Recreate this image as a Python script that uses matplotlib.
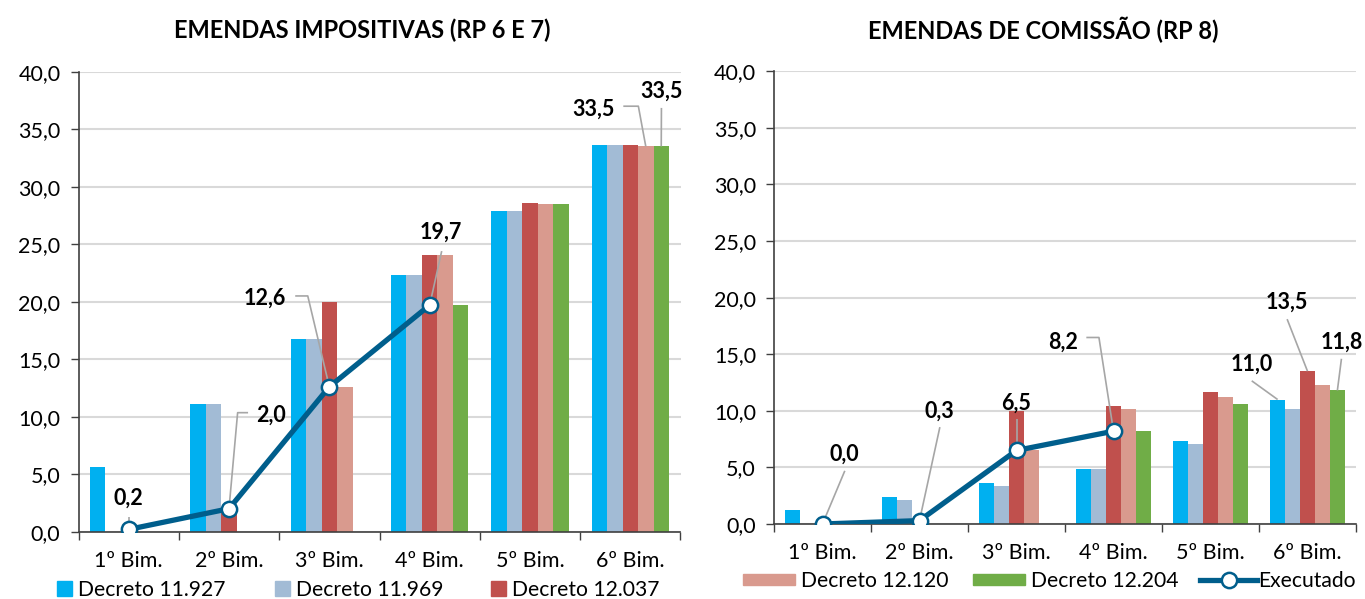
import matplotlib
matplotlib.use("Agg")
import matplotlib.pyplot as plt
from matplotlib.patches import Patch
from matplotlib.lines import Line2D
import numpy as np

plt.rcParams['font.family'] = ['Lato', 'DejaVu Sans']

cats = ['1º Bim.', '2º Bim.', '3º Bim.', '4º Bim.', '5º Bim.', '6º Bim.']
names = ['Decreto 11.927', 'Decreto 11.969', 'Decreto 12.037', 'Decreto 12.120', 'Decreto 12.204']
colors = ['#00B0F0', '#A2BBD5', '#C0504D', '#D99A8E', '#70AD47']
line_color = '#005E8C'

# Emendas impositivas (RP 6 e 7)
imp_11927 = [5.6, 11.1, 16.8, 22.3, 27.9, 33.6]
imp_11969 = [0.0, 11.1, 16.8, 22.3, 27.9, 33.6]
imp_12037 = [0.0, 2.0, 20.0, 24.1, 28.6, 33.6]
imp_12120 = [0.0, 0.0, 12.6, 24.1, 28.5, 33.5]
imp_12204 = [0.0, 0.0, 0.0, 19.7, 28.5, 33.5]
imp_exec = [0.2, 2.0, 12.6, 19.7]

# Emendas de comissão (RP 8)
com_11927 = [1.2, 2.4, 3.6, 4.9, 7.3, 11.0]
com_11969 = [0.0, 2.1, 3.4, 4.9, 7.1, 10.2]
com_12037 = [0.0, 0.3, 10.0, 10.4, 11.7, 13.5]
com_12120 = [0.0, 0.0, 6.5, 10.2, 11.2, 12.3]
com_12204 = [0.0, 0.0, 0.0, 8.2, 10.6, 11.8]
com_exec = [0.0, 0.3, 6.5, 8.2]

W = 0.154
offs = [-2, -1, 0, 1, 2]


def fmt(v):
    return f"{v:.1f}".replace('.', ',')


def draw_panel(ax, series, execd):
    x = np.arange(len(cats))
    for s, c, o in zip(series, colors, offs):
        ax.bar(x + o * W, s, W, color=c, zorder=2)
    ax.plot(x[:len(execd)], execd, color=line_color, lw=3.8, marker='o',
            ms=11, mfc='white', mec=line_color, mew=1.8, zorder=4)
    ax.set_xlim(-0.5, 5.5)
    ax.set_ylim(0, 40)
    ax.set_yticks(np.arange(0, 41, 5))
    ax.set_yticklabels([fmt(v) for v in np.arange(0, 41, 5)])
    ax.set_xticks(x)
    ax.set_xticklabels(cats)
    ax.set_xticks(np.arange(-0.5, 6, 1), minor=True)
    ax.tick_params(axis='x', which='major', length=0, pad=14, labelsize=15.5)
    ax.tick_params(axis='x', which='minor', length=6, width=1, color='#404040')
    ax.tick_params(axis='y', length=6, width=1, color='#404040', labelsize=15.5, pad=7)
    ax.grid(axis='y', color='#D9D9D9', lw=1.5, zorder=0)
    ax.set_axisbelow(True)
    for sp in ['top', 'right']:
        ax.spines[sp].set_visible(False)
    for sp in ['left', 'bottom']:
        ax.spines[sp].set_color('#404040')
        ax.spines[sp].set_linewidth(1.2)


def label(ax, value, txy, path):
    xs = [p[0] for p in path]
    ys = [p[1] for p in path]
    ax.plot(xs, ys, color='#A6A6A6', lw=1.2, zorder=3, solid_capstyle='butt')
    ax.text(txy[0], txy[1], fmt(value), ha='center', va='center',
            fontsize=15.5, fontweight='bold', zorder=5)


fig = plt.figure(figsize=(13.65, 5.99), dpi=100)
axL = fig.add_axes([78.5 / 1365, 1 - 531.7 / 599, 602 / 1365, 460 / 599])
axR = fig.add_axes([774 / 1365, 1 - 524 / 599, 582 / 1365, 452.7 / 599])

draw_panel(axL, [imp_11927, imp_11969, imp_12037, imp_12120, imp_12204], imp_exec)
draw_panel(axR, [com_11927, com_11969, com_12037, com_12120, com_12204], com_exec)

fig.text(362 / 1365, 1 - 30 / 599, 'EMENDAS IMPOSITIVAS (RP 6 E 7)', ha='center', va='center',
         fontsize=17, fontweight='bold')
fig.text(1043 / 1365, 1 - 30 / 599, 'EMENDAS DE COMISSÃO (RP 8)', ha='center', va='center',
         fontsize=17, fontweight='bold')

# data labels, left
label(axL, imp_exec[0], (0.0, 2.9), [(0.0, 1.3), (0, imp_exec[0])])
label(axL, imp_exec[1], (1.42, 10.15), [(1.19, 10.35), (1.086, 10.35), (1, imp_exec[1])])
label(axL, imp_exec[2], (1.36, 20.3), [(1.66, 20.5), (1.785, 20.5), (2, imp_exec[2])])
label(axL, imp_exec[3], (3.11, 26.0), [(3.12, 24.4), (3, imp_exec[3])])
label(axL, imp_12120[5], (4.63, 36.7), [(4.93, 37.0), (5.08, 37.0), (5 + W, imp_12120[5])])
label(axL, imp_12204[5], (5.31, 38.3), [(5.31, 36.85), (5 + 2 * W, imp_12204[5])])

# data labels, right
label(axR, com_exec[0], (0.23, 6.2), [(0.23, 4.7), (0, com_exec[0])])
label(axR, com_exec[1], (1.21, 10.0), [(1.21, 8.56), (1, com_exec[1])])
label(axR, com_exec[2], (2.0, 10.7), [(2.0, 9.24), (2, com_exec[2])])
label(axR, com_exec[3], (2.48, 16.1), [(2.72, 16.48), (2.85, 16.48), (3, com_exec[3])])
label(axR, com_11927[5], (4.43, 14.1), [(4.425, 12.65), (5 - 2 * W, com_11927[5])])
label(axR, com_12037[5], (4.79, 19.6), [(4.79, 18.1), (5, com_12037[5])])
label(axR, com_12204[5], (5.35, 16.1), [(5.35, 14.6), (5 + 2 * W, com_12204[5])])

# legends: one entry each, placed like the original
exec_handle = Line2D([], [], color=line_color, lw=3.8, marker='o', ms=11,
                     mfc='white', mec=line_color, mew=1.8)
entries = [
    (Patch(color=colors[0]), names[0], 57, 590, 0.7, 0.7, 0.3),
    (Patch(color=colors[1]), names[1], 275, 590, 0.7, 0.7, 0.3),
    (Patch(color=colors[2]), names[2], 491, 590, 0.7, 0.7, 0.3),
    (Patch(color=colors[3]), names[3], 743, 581, 2.45, 0.48, 0.3),
    (Patch(color=colors[4]), names[4], 973, 581, 2.45, 0.48, 0.3),
    (exec_handle, 'Executado', 1200, 581, 2.7, 0.7, 0.05),
]
for h, t, px, py, hl, hh, tp in entries:
    fig.legend([h], [t], loc='center left', bbox_to_anchor=(px / 1365, 1 - py / 599),
               frameon=False, fontsize=15.2, handlelength=hl, handleheight=hh,
               handletextpad=tp, borderaxespad=0, borderpad=0)

fig.savefig('out.png', dpi=100)
